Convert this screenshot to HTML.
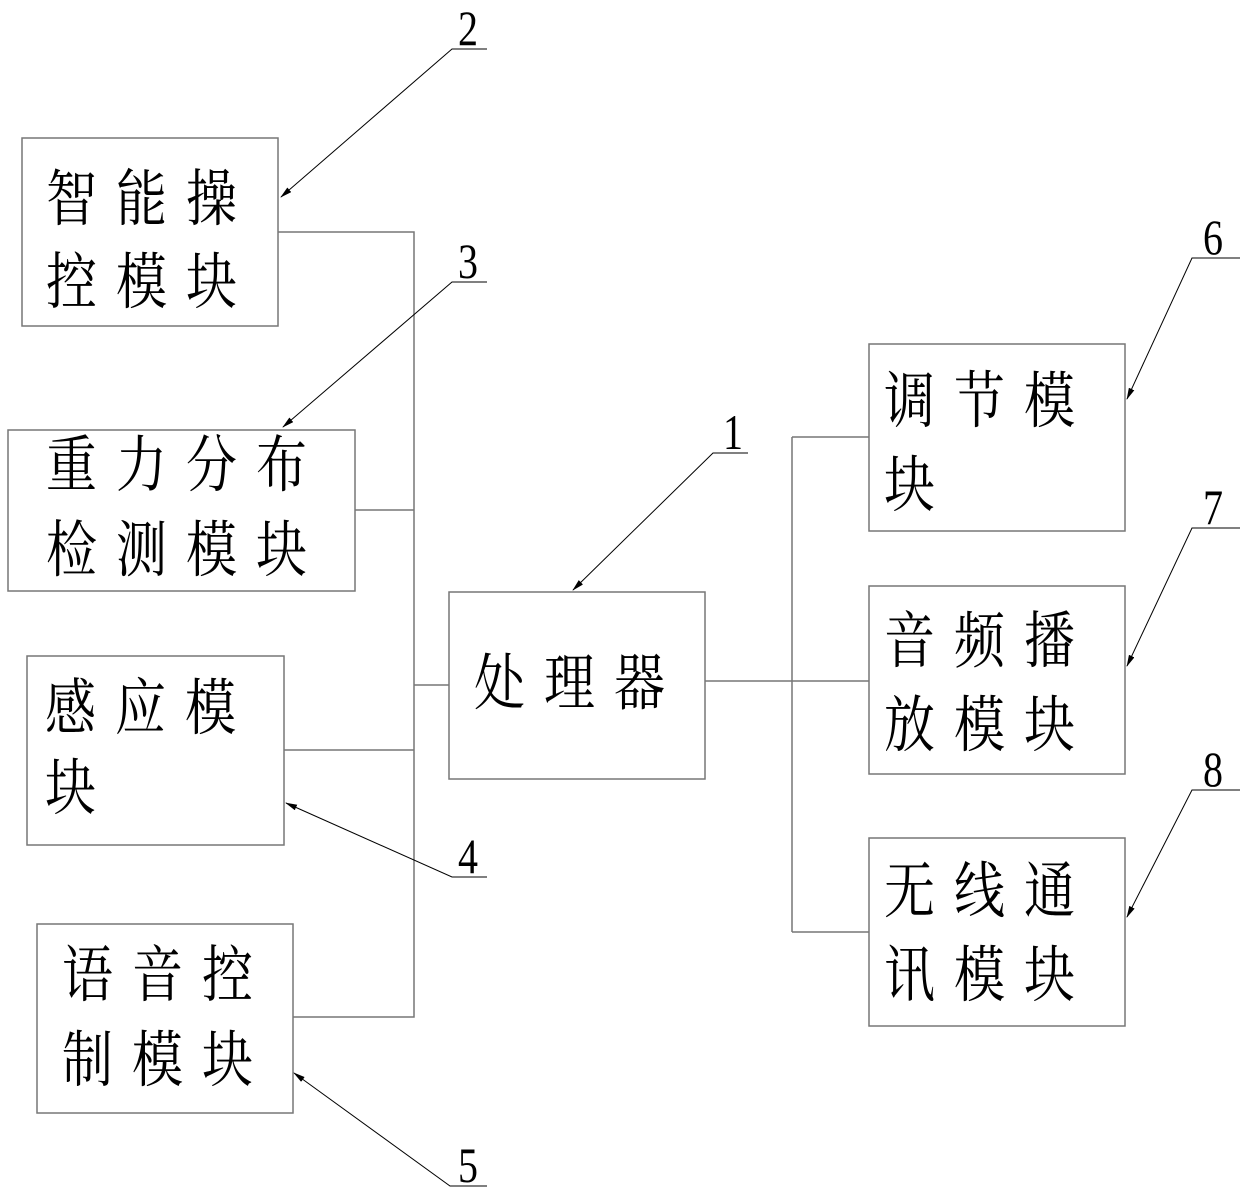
<!DOCTYPE html>
<html><head><meta charset="utf-8"><style>
html,body{margin:0;padding:0;background:#fff;}
svg{display:block;}
.t{font-family:"Liberation Serif","Noto Serif CJK SC",serif;font-size:51px;letter-spacing:19px;fill:#000;}
.n{font-family:"Liberation Serif",serif;font-size:40px;fill:#000;}
</style></head><body>
<svg width="1240" height="1189" viewBox="0 0 1240 1189" xmlns="http://www.w3.org/2000/svg">
<defs><marker id="a" markerWidth="12" markerHeight="6" refX="11" refY="3" orient="auto" markerUnits="userSpaceOnUse"><path d="M0,0 L12,3 L0,6 z" fill="#000"/></marker></defs>
<g fill="none" stroke="#777" stroke-width="1.5">
<rect x="22" y="138" width="256" height="188"/>
<rect x="8" y="430" width="347" height="161"/>
<rect x="27" y="656" width="257" height="189"/>
<rect x="37" y="924" width="256" height="189"/>
<rect x="449" y="592" width="256" height="187"/>
<rect x="869" y="344" width="256" height="187"/>
<rect x="869" y="586" width="256" height="188"/>
<rect x="869" y="838" width="256" height="188"/>
<path d="M278 232H414V1017H293M355 510H414M284 750H414M414 685H449"/>
<path d="M705 681H869M792 437V932M792 437H869M792 932H869"/>
</g>
<g fill="none" stroke="#000" stroke-width="1">
<path d="M487 49H452L281 197" marker-end="url(#a)"/>
<path d="M487 282H452L283 427" marker-end="url(#a)"/>
<path d="M487 877H452L286 803" marker-end="url(#a)"/>
<path d="M487 1186H450L294 1073" marker-end="url(#a)"/>
<path d="M748 453H713L573 590" marker-end="url(#a)"/>
<path d="M1240 258H1192L1127 399" marker-end="url(#a)"/>
<path d="M1240 528H1192L1127 666" marker-end="url(#a)"/>
<path d="M1240 790H1192L1127 917" marker-end="url(#a)"/>
</g>
<g class="n">
<text transform="translate(458,45) scale(1,1.25)">2</text>
<text transform="translate(458,278) scale(1,1.25)">3</text>
<text transform="translate(458,873) scale(1,1.25)">4</text>
<text transform="translate(458,1182) scale(1,1.25)">5</text>
<text transform="translate(723,449) scale(1,1.25)">1</text>
<text transform="translate(1203,254) scale(1,1.25)">6</text>
<text transform="translate(1203,524) scale(1,1.25)">7</text>
<text transform="translate(1203,786) scale(1,1.25)">8</text>
</g>
<g class="t">
<text transform="translate(46,220) scale(1,1.2)">智能操</text>
<text transform="translate(46,303) scale(1,1.2)">控模块</text>
<text transform="translate(46,486) scale(1,1.2)">重力分布</text>
<text transform="translate(46,571) scale(1,1.2)">检测模块</text>
<text transform="translate(45,729) scale(1,1.2)">感应模</text>
<text transform="translate(45,809) scale(1,1.2)">块</text>
<text transform="translate(62,996) scale(1,1.2)">语音控</text>
<text transform="translate(62,1081) scale(1,1.2)">制模块</text>
<text transform="translate(474,704) scale(1,1.2)">处理器</text>
<text transform="translate(884,422) scale(1,1.2)">调节模</text>
<text transform="translate(884,506) scale(1,1.2)">块</text>
<text transform="translate(884,662) scale(1,1.2)">音频播</text>
<text transform="translate(884,746) scale(1,1.2)">放模块</text>
<text transform="translate(884,912) scale(1,1.2)">无线通</text>
<text transform="translate(884,996) scale(1,1.2)">讯模块</text>
</g>
</svg>
</body></html>
